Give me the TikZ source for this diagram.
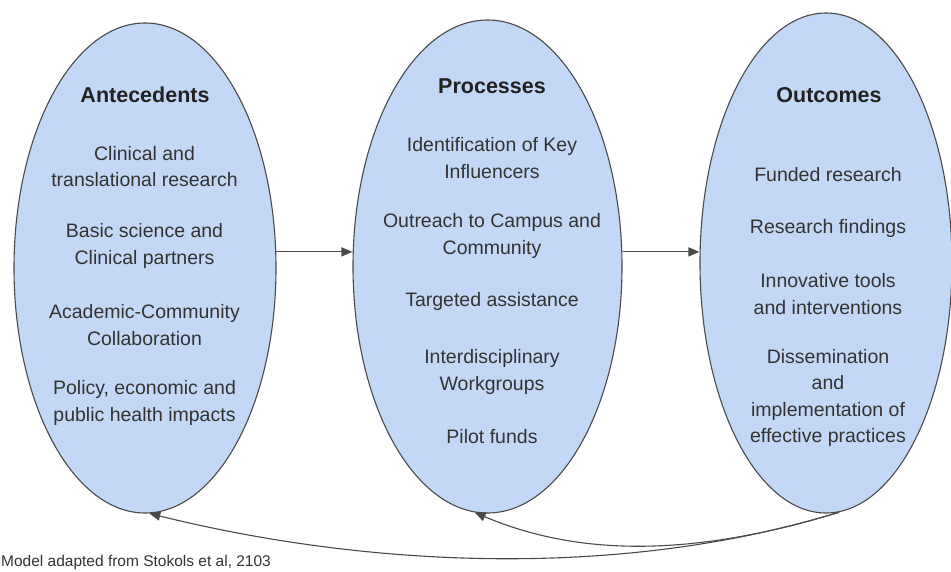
\documentclass[tikz,border=0pt]{standalone}
\usepackage{fontspec}
\setmainfont{Liberation Sans}
\usetikzlibrary{shapes.geometric,arrows.meta}
\definecolor{ellfill}{HTML}{C2D8F6}
\definecolor{ellline}{HTML}{4A4A4A}
\definecolor{txt}{HTML}{333333}
\definecolor{ttlc}{HTML}{222222}
\begin{document}
\begin{tikzpicture}[x=1pt,y=-1pt,
  oval/.style={ellipse,draw=ellline,line width=1.1pt,fill=ellfill,inner sep=0pt},
  ttl/.style={font=\fontsize{21.5}{25}\selectfont\bfseries,text=ttlc},
  item/.style={font=\fontsize{19.5}{26.5}\selectfont,text=txt,align=center},
  arr/.style={draw=ellline,line width=1.1pt,-{Triangle[length=11pt,width=9pt]}},
  note/.style={font=\fontsize{15.5}{18}\selectfont,text=txt,anchor=west,inner sep=0pt}
]
\useasboundingbox (0,0) rectangle (951,571);

% ellipses
\node[oval,minimum width=262pt,minimum height=490pt] (e1) at (145,268) {};
\node[oval,minimum width=269pt,minimum height=493pt] (e2) at (487.5,266.5) {};
\node[oval,minimum width=252pt,minimum height=500pt] (e3) at (826,263) {};

% Antecedents
\node[ttl] (t1) at (145,95) {Antecedents};
\node[item] (a1) at (144.5,166.5) {Clinical and\\translational research};
\node[item] (a2) at (144.5,246) {Basic science and\\Clinical partners};
\node[item] (a3) at (144.5,325) {Academic-Community\\Collaboration};
\node[item] (a4) at (144.5,403) {Policy, economic and\\public health impacts};

% Processes
\node[ttl] (t2) at (492,86) {Processes};
\node[item] (p1) at (492,158) {Identification of Key\\Influencers};
\node[item] (p2) at (492,236) {Outreach to Campus and\\Community};
\node[item] (p3) at (492,301) {Targeted assistance};
\node[item] (p4) at (492,372) {Interdisciplinary\\Workgroups};
\node[item] (p5) at (492,437) {Pilot funds};

% Outcomes
\node[ttl] (t3) at (829,95) {Outcomes};
\node[item] (o1) at (828,175) {Funded research};
\node[item] (o2) at (828,228) {Research findings};
\node[item] (o3) at (828,294) {Innovative tools\\and interventions};
\node[item] (o4) at (828,398) {Dissemination\\and\\implementation of\\effective practices};

% forward arrows
\coordinate (s1) at (e1.7);
\draw[arr] (s1) -- (e2.west |- s1);
\draw[arr] (e2.east |- s1) -- (e3.west |- s1);

% feedback arrows
\draw[arr] (e3.-87) .. controls +(-217,67) and +(220,54.5) .. (e1.-89);
\draw[arr] (e3.-87) .. controls +(-162.5,50) and +(92,39) .. (e2.-93.5);

% footnote
\node[note] (fn) at (1,562) {Model adapted from Stokols et al, 2103};
\end{tikzpicture}
\end{document}
